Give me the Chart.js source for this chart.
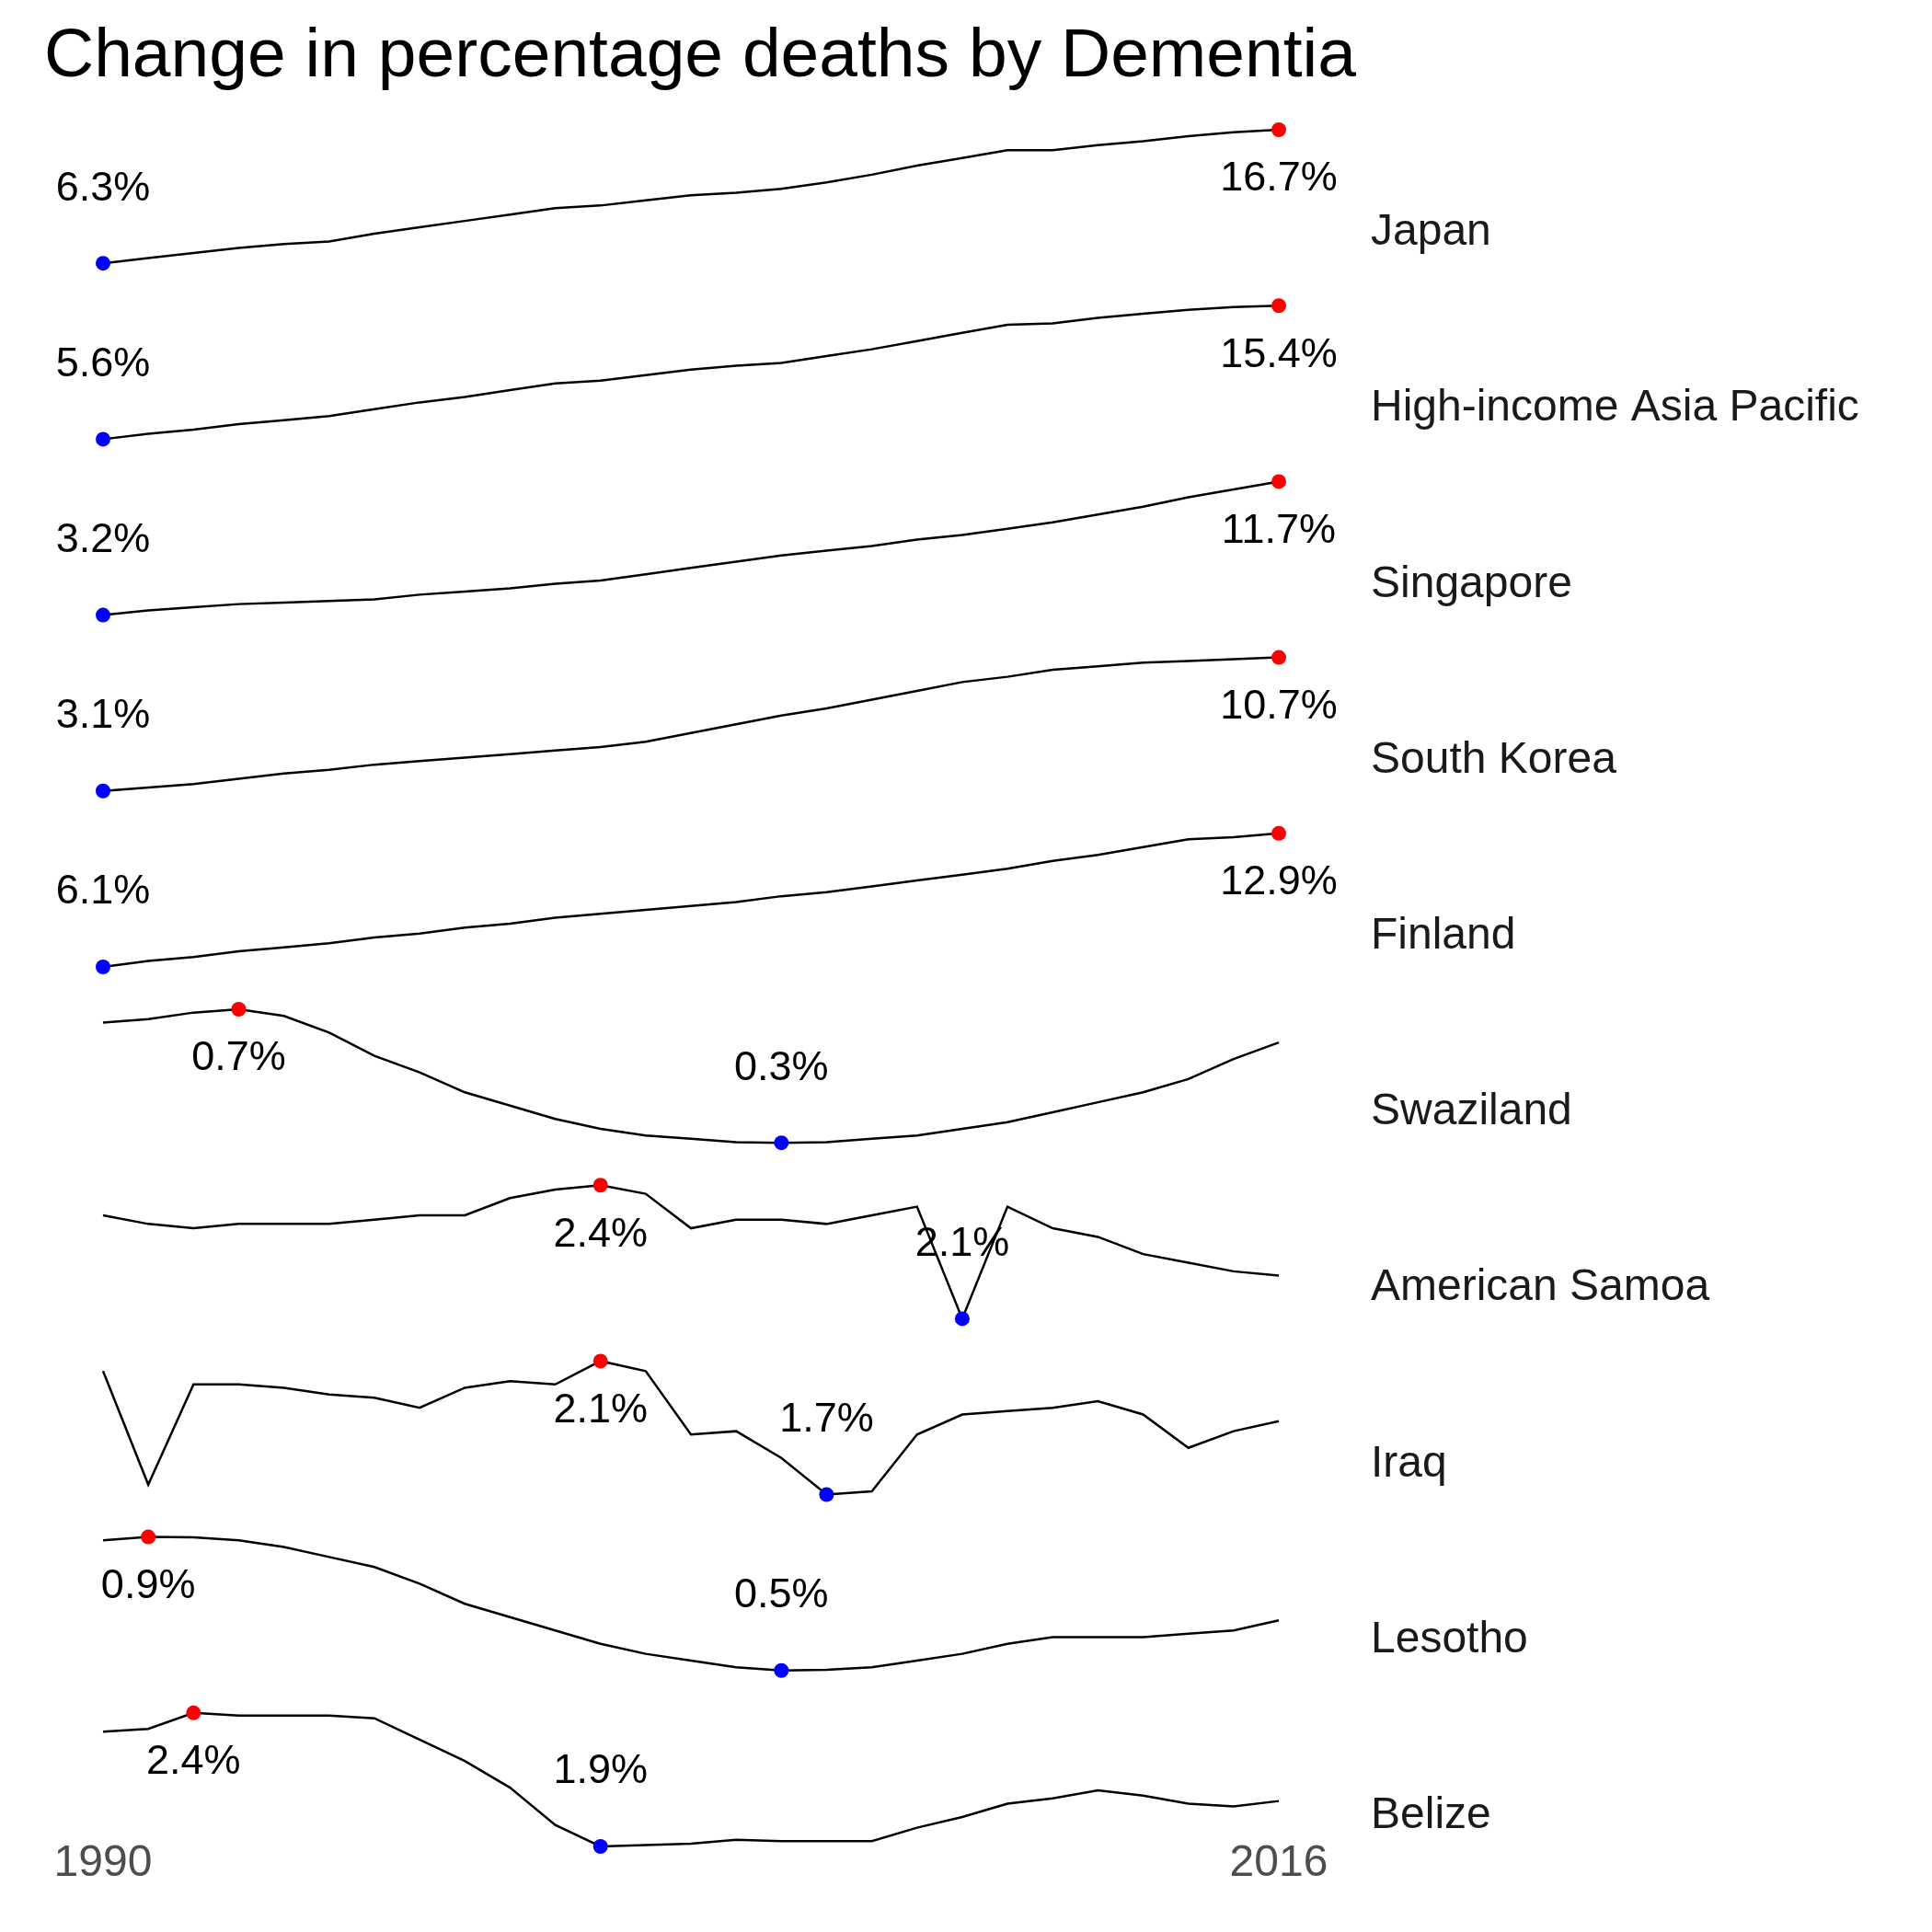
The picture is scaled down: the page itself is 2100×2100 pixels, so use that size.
<!DOCTYPE html>
<html>
<head>
<meta charset="utf-8">
<script src="https://cdn.jsdelivr.net/npm/chart.js@4"></script>
<style>
  body { margin: 0; background: #fff; }
  #wrap { width: 2100px; height: 2100px; }
</style>
</head>
<body>
<div id="wrap"><canvas id="chart" width="2100" height="2100"></canvas></div>
<script>
const years = [];
for (let y = 1990; y <= 2016; y++) years.push(String(y));

const countries = ['Japan', 'High-income Asia Pacific', 'Singapore', 'South Korea', 'Finland',
    'Swaziland', 'American Samoa', 'Iraq', 'Lesotho', 'Belize'];

const japan = [6.3, 6.7, 7.1, 7.5, 7.8, 8.0, 8.6, 9.1, 9.6, 10.1, 10.6, 10.8, 11.2, 11.6, 11.8, 12.1, 12.6, 13.2, 13.9, 14.5, 15.1, 15.1, 15.5, 15.8, 16.2, 16.5, 16.7];
const highIncomeAP = [5.6, 6.0, 6.3, 6.7, 7.0, 7.3, 7.8, 8.3, 8.7, 9.2, 9.7, 9.9, 10.3, 10.7, 11.0, 11.2, 11.7, 12.2, 12.8, 13.4, 14.0, 14.1, 14.5, 14.8, 15.1, 15.3, 15.4];
const singapore = [3.2, 3.5, 3.7, 3.9, 4.0, 4.1, 4.2, 4.5, 4.7, 4.9, 5.2, 5.4, 5.8, 6.2, 6.6, 7.0, 7.3, 7.6, 8.0, 8.3, 8.7, 9.1, 9.6, 10.1, 10.7, 11.2, 11.7];
const southKorea = [3.1, 3.3, 3.5, 3.8, 4.1, 4.3, 4.6, 4.8, 5.0, 5.2, 5.4, 5.6, 5.9, 6.4, 6.9, 7.4, 7.8, 8.3, 8.8, 9.3, 9.6, 10.0, 10.2, 10.4, 10.5, 10.6, 10.7];
const finland = [6.1, 6.4, 6.6, 6.9, 7.1, 7.3, 7.6, 7.8, 8.1, 8.3, 8.6, 8.8, 9.0, 9.2, 9.4, 9.7, 9.9, 10.2, 10.5, 10.8, 11.1, 11.5, 11.8, 12.2, 12.6, 12.7, 12.9];
const swaziland = [0.66, 0.67, 0.69, 0.70, 0.68, 0.63, 0.56, 0.51, 0.45, 0.41, 0.37, 0.34, 0.32, 0.31, 0.30, 0.298, 0.30, 0.31, 0.32, 0.34, 0.36, 0.39, 0.42, 0.45, 0.49, 0.55, 0.60];
const americanSamoa = [2.34, 2.32, 2.31, 2.32, 2.32, 2.32, 2.33, 2.34, 2.34, 2.38, 2.40, 2.41, 2.39, 2.31, 2.33, 2.33, 2.32, 2.34, 2.36, 2.10, 2.36, 2.31, 2.29, 2.25, 2.23, 2.21, 2.20];
const iraq = [2.07, 1.73, 2.03, 2.03, 2.02, 2.00, 1.99, 1.96, 2.02, 2.04, 2.03, 2.10, 2.07, 1.88, 1.89, 1.81, 1.70, 1.71, 1.88, 1.94, 1.95, 1.96, 1.98, 1.94, 1.84, 1.89, 1.92];
const lesotho = [0.89, 0.90, 0.899, 0.89, 0.87, 0.84, 0.81, 0.76, 0.70, 0.66, 0.62, 0.58, 0.55, 0.53, 0.51, 0.50, 0.502, 0.51, 0.53, 0.55, 0.58, 0.60, 0.60, 0.60, 0.61, 0.62, 0.65];
const belize = [2.33, 2.34, 2.40, 2.39, 2.39, 2.39, 2.38, 2.30, 2.22, 2.12, 1.98, 1.90, 1.905, 1.91, 1.925, 1.92, 1.92, 1.92, 1.97, 2.01, 2.06, 2.08, 2.11, 2.09, 2.06, 2.05, 2.07];

const series = [japan, highIncomeAP, singapore, southKorea, finland, swaziland, americanSamoa, iraq, lesotho, belize];

const FONT = '"Liberation Sans", Arial, sans-serif';

function maxIdx(arr) { return arr.indexOf(Math.max(...arr)); }
function minIdx(arr) { return arr.indexOf(Math.min(...arr)); }

// stacked axes are laid out bottom-up, so add them last row first
const scales = {
    x: { type: 'category', display: false, offset: false }
};
for (let i = series.length - 1; i >= 0; i--) {
    const vals = series[i];
    const lo = Math.min(...vals), hi = Math.max(...vals);
    const pad = (hi - lo) * 0.1586;
    scales['y' + i] = {
        type: 'linear', position: 'left', stack: 'rows', stackWeight: 1,
        min: lo - pad, max: hi + pad,
        grid: { display: false }, border: { display: false },
        ticks: { display: false },
        afterFit: s => { s.width = 0; }
    };
}

const datasets = series.map((vals, i) => {
    const mx = maxIdx(vals), mn = minIdx(vals);
    return {
        label: countries[i],
        data: vals,
        yAxisID: 'y' + i,
        borderColor: '#000',
        borderWidth: 2.5,
        tension: 0,
        pointRadius: vals.map((v, j) => (j === mx || j === mn) ? 8 : 0),
        pointHoverRadius: 0,
        pointBorderWidth: 0,
        pointBackgroundColor: vals.map((v, j) => j === mx ? '#ff0000' : (j === mn ? '#0000ff' : 'transparent'))
    };
});

const textPlugin = {
    id: 'texts',
    afterDraw(chart) {
        const ctx = chart.ctx;
        ctx.save();
        ctx.fillStyle = '#000';
        ctx.font = '75px ' + FONT;
        ctx.textAlign = 'left';
        ctx.textBaseline = 'middle';
        ctx.fillText('Change in percentage deaths by Dementia', 48, 62);

        const x = chart.scales.x;
        series.forEach((vals, i) => {
            const ys = chart.scales['y' + i];
            const mx = maxIdx(vals), mn = minIdx(vals);
            ctx.font = '45px ' + FONT;
            ctx.textAlign = 'center';
            ctx.fillStyle = '#000';
            ctx.fillText(vals[mx].toFixed(1) + '%', x.getPixelForValue(mx), ys.getPixelForValue(vals[mx]) + 54);
            ctx.fillText(vals[mn].toFixed(1) + '%', x.getPixelForValue(mn), ys.getPixelForValue(vals[mn]) - 81);
            ctx.font = '48px ' + FONT;
            ctx.textAlign = 'left';
            ctx.fillStyle = '#1a1a1a';
            ctx.fillText(countries[i], 1490, ys.top + 135);
        });

        ctx.font = '48px ' + FONT;
        ctx.textAlign = 'center';
        ctx.fillStyle = '#4d4d4d';
        ctx.fillText(years[0], x.getPixelForValue(0), 2026);
        ctx.fillText(years[years.length - 1], x.getPixelForValue(years.length - 1), 2026);
        ctx.restore();
    }
};

new Chart(document.getElementById('chart').getContext('2d'), {
    type: 'line',
    data: { labels: years, datasets: datasets },
    options: {
        responsive: false,
        animation: false,
        layout: { padding: { left: 112, right: 710, top: 118, bottom: 70 } },
        plugins: { legend: { display: false }, tooltip: { enabled: false }, title: { display: false } },
        scales: scales
    },
    plugins: [textPlugin]
});
</script>
</body>
</html>
